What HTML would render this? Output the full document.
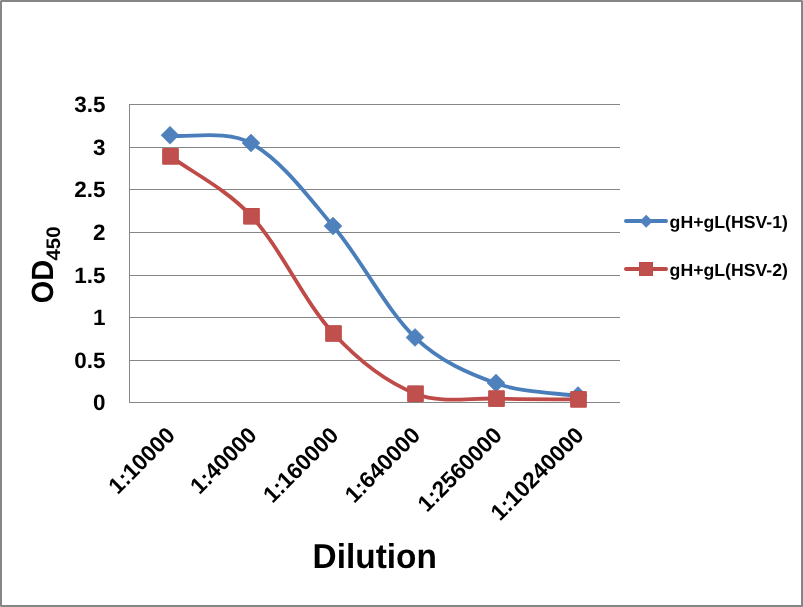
<!DOCTYPE html>
<html lang="en"><head><meta charset="utf-8"><title>OD450 Dilution chart</title>
<style>
html,body{margin:0;padding:0;background:#fff;}
body{width:803px;height:607px;overflow:hidden;}
svg{display:block;}
text{font-family:"Liberation Sans",sans-serif;font-weight:bold;fill:#000;text-rendering:geometricPrecision;}
</style></head><body>
<svg width="803" height="607" viewBox="0 0 803 607" role="img" aria-label="OD450 versus Dilution">
<rect x="0" y="0" width="803" height="607" fill="#fff"/>
<rect x="1" y="1" width="801" height="605" fill="none" stroke="#868686" stroke-width="2"/>
<g shape-rendering="crispEdges"><rect x="0" y="0" width="1" height="1" fill="#c4c4c4"/><rect x="802" y="0" width="1" height="1" fill="#b5b5b5"/><rect x="0" y="606" width="1" height="1" fill="#a8a8a8"/><rect x="802" y="606" width="1" height="1" fill="#969696"/></g>
<g stroke="#868686" stroke-width="1" shape-rendering="crispEdges">
<line x1="129" y1="104.5" x2="620" y2="104.5"/>
<line x1="129" y1="147.5" x2="620" y2="147.5"/>
<line x1="129" y1="189.5" x2="620" y2="189.5"/>
<line x1="129" y1="232.5" x2="620" y2="232.5"/>
<line x1="129" y1="275.5" x2="620" y2="275.5"/>
<line x1="129" y1="317.5" x2="620" y2="317.5"/>
<line x1="129" y1="360.5" x2="620" y2="360.5"/>
<line x1="129" y1="402.5" x2="620" y2="402.5"/>
<line x1="129.5" y1="104" x2="129.5" y2="403"/>
</g>
<path transform="translate(0.00 0.00)" d="M170.50 135.70 C190.75 137.65 226.78 129.72 251.50 143.50 C281.11 160.00 307.33 195.52 333.50 226.55 C361.99 260.32 385.64 309.15 415.50 337.90 C439.98 361.47 468.56 373.52 496.50 383.50 C522.89 392.92 558.00 392.95 578.50 396.10" fill="none" stroke="#4A7EBB" stroke-width="3.8" stroke-linecap="round" stroke-linejoin="round"/>
<path d="M170.0 126.2 L179.0 135.2 L170.0 144.2 L161.0 135.2 Z" fill="#4F81BD" stroke="#4A7EBB" stroke-width="0.5"/>
<path d="M251.0 134.0 L260.0 143.0 L251.0 152.0 L242.0 143.0 Z" fill="#4F81BD" stroke="#4A7EBB" stroke-width="0.5"/>
<path d="M333.0 217.1 L342.0 226.1 L333.0 235.1 L324.0 226.1 Z" fill="#4F81BD" stroke="#4A7EBB" stroke-width="0.5"/>
<path d="M415.0 328.4 L424.0 337.4 L415.0 346.4 L406.0 337.4 Z" fill="#4F81BD" stroke="#4A7EBB" stroke-width="0.5"/>
<path d="M496.0 374.0 L505.0 383.0 L496.0 392.0 L487.0 383.0 Z" fill="#4F81BD" stroke="#4A7EBB" stroke-width="0.5"/>
<path d="M578.0 386.6 L587.0 395.6 L578.0 404.6 L569.0 395.6 Z" fill="#4F81BD" stroke="#4A7EBB" stroke-width="0.5"/>
<path transform="translate(0.00 0.00)" d="M170.50 156.40 C190.75 171.38 226.71 189.36 251.50 216.30 C281.04 248.40 303.84 301.42 333.50 333.50 C358.51 360.55 386.80 382.24 415.50 393.70 C441.13 403.94 469.40 397.65 496.50 398.60 C523.74 399.55 558.00 399.20 578.50 399.40" fill="none" stroke="#BE4B48" stroke-width="3.8" stroke-linecap="round" stroke-linejoin="round"/>
<rect x="162.7" y="148.6" width="15.6" height="15.6" fill="#C0504D" stroke="#BE4B48" stroke-width="1" stroke-linejoin="round"/>
<rect x="243.7" y="208.5" width="15.6" height="15.6" fill="#C0504D" stroke="#BE4B48" stroke-width="1" stroke-linejoin="round"/>
<rect x="325.7" y="325.7" width="15.6" height="15.6" fill="#C0504D" stroke="#BE4B48" stroke-width="1" stroke-linejoin="round"/>
<rect x="407.7" y="385.9" width="15.6" height="15.6" fill="#C0504D" stroke="#BE4B48" stroke-width="1" stroke-linejoin="round"/>
<rect x="488.7" y="390.8" width="15.6" height="15.6" fill="#C0504D" stroke="#BE4B48" stroke-width="1" stroke-linejoin="round"/>
<rect x="570.7" y="391.6" width="15.6" height="15.6" fill="#C0504D" stroke="#BE4B48" stroke-width="1" stroke-linejoin="round"/>
<text transform="translate(105.50 111.65) scale(1.0080 1)" font-size="22.30" text-anchor="end">3.5</text>
<text transform="translate(105.50 154.65) scale(1.0080 1)" font-size="22.30" text-anchor="end">3</text>
<text transform="translate(105.50 196.65) scale(1.0080 1)" font-size="22.30" text-anchor="end">2.5</text>
<text transform="translate(105.50 239.65) scale(1.0080 1)" font-size="22.30" text-anchor="end">2</text>
<text transform="translate(105.50 282.65) scale(1.0080 1)" font-size="22.30" text-anchor="end">1.5</text>
<text transform="translate(105.50 324.65) scale(1.0080 1)" font-size="22.30" text-anchor="end">1</text>
<text transform="translate(105.50 367.65) scale(1.0080 1)" font-size="22.30" text-anchor="end">0.5</text>
<text transform="translate(105.50 410.05) scale(1.0080 1)" font-size="22.30" text-anchor="end">0</text>
<text transform="translate(176.38 436.60) rotate(-45) scale(0.9950 1)" font-size="22.70" text-anchor="end">1:10000</text>
<text transform="translate(258.12 436.60) rotate(-45) scale(0.9950 1)" font-size="22.70" text-anchor="end">1:40000</text>
<text transform="translate(339.88 436.60) rotate(-45) scale(0.9950 1)" font-size="22.70" text-anchor="end">1:160000</text>
<text transform="translate(421.62 436.60) rotate(-45) scale(0.9950 1)" font-size="22.70" text-anchor="end">1:640000</text>
<text transform="translate(503.38 436.60) rotate(-45) scale(0.9950 1)" font-size="22.70" text-anchor="end">1:2560000</text>
<text transform="translate(585.12 436.60) rotate(-45) scale(0.9950 1)" font-size="22.70" text-anchor="end">1:10240000</text>
<text transform="translate(374.70 568.30) scale(0.9660 1)" font-size="34.60" text-anchor="middle">Dilution</text>
<text transform="translate(53.30 303.30) rotate(-90)"><tspan font-size="30.70" textLength="43.29" lengthAdjust="spacingAndGlyphs">OD</tspan><tspan x="42.9" y="6.4" font-size="19.60" textLength="33.84" lengthAdjust="spacingAndGlyphs">450</tspan></text>
<line x1="626" y1="221" x2="666" y2="221" stroke="#4A7EBB" stroke-width="4" stroke-linecap="round"/>
<path d="M646.2 214.8 L652.7 221.3 L646.2 227.8 L639.7 221.3 Z" fill="#4F81BD"/>
<text transform="translate(669.60 227.55) scale(1.0050 1)" font-size="17.60">gH+gL(HSV-1)</text>
<line x1="626" y1="269" x2="666" y2="269" stroke="#BE4B48" stroke-width="4" stroke-linecap="round"/>
<rect x="639.5" y="262.5" width="13" height="13" fill="#C0504D" stroke="#BE4B48" stroke-width="1"/>
<text transform="translate(669.60 275.60) scale(1.0050 1)" font-size="17.60">gH+gL(HSV-2)</text>
</svg>
</body></html>
